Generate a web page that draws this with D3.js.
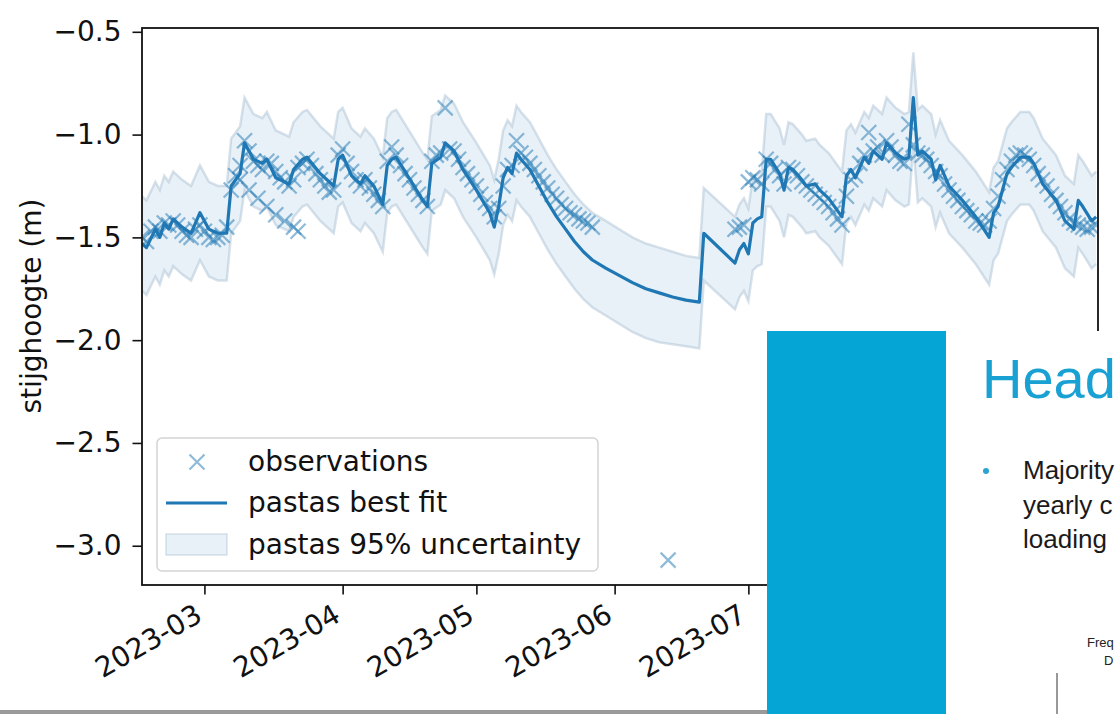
<!DOCTYPE html>
<html><head><meta charset="utf-8">
<script src="https://cdn.jsdelivr.net/npm/d3@7"></script>
<style>body{margin:0;background:#fff}svg{display:block}</style>
</head><body>
<svg id="c" width="1117" height="714"></svg>
<script>
// ---------- DATA ----------
// pastas best fit (simulation) breakpoints
const simDates = [
 "2023-02-15","2023-02-16","2023-02-18","2023-02-19","2023-02-20","2023-02-21","2023-02-22","2023-02-24","2023-02-26","2023-02-28",
 "2023-03-02","2023-03-04","2023-03-06","2023-03-07","2023-03-09","2023-03-10","2023-03-12","2023-03-14","2023-03-15","2023-03-17","2023-03-20","2023-03-21","2023-03-23","2023-03-24","2023-03-27","2023-03-30","2023-03-31",
 "2023-04-01","2023-04-03","2023-04-05","2023-04-06","2023-04-08","2023-04-10","2023-04-11","2023-04-12","2023-04-13","2023-04-17","2023-04-19","2023-04-20","2023-04-21","2023-04-23","2023-04-24","2023-04-26","2023-04-28",
 "2023-05-01","2023-05-04","2023-05-05","2023-05-06","2023-05-07","2023-05-08","2023-05-09","2023-05-10","2023-05-11","2023-05-13","2023-05-15","2023-05-17","2023-05-19","2023-05-21","2023-05-23","2023-05-25","2023-05-27","2023-05-30",
 "2023-06-02","2023-06-05","2023-06-08","2023-06-11","2023-06-14","2023-06-17","2023-06-20","2023-06-21","2023-06-28","2023-06-29","2023-06-30",
 "2023-07-01","2023-07-02","2023-07-03","2023-07-04","2023-07-05","2023-07-06","2023-07-08","2023-07-09","2023-07-10","2023-07-11","2023-07-13","2023-07-14","2023-07-16","2023-07-17","2023-07-19","2023-07-22","2023-07-23","2023-07-24","2023-07-25","2023-07-27","2023-07-28","2023-07-29","2023-07-31",
 "2023-08-01","2023-08-03","2023-08-05","2023-08-06","2023-08-07","2023-08-08","2023-08-09","2023-08-11","2023-08-12","2023-08-13","2023-08-15","2023-08-18","2023-08-21","2023-08-24","2023-08-25","2023-08-26","2023-08-28","2023-08-29","2023-08-31",
 "2023-09-02","2023-09-03","2023-09-05","2023-09-08","2023-09-10","2023-09-12","2023-09-13","2023-09-14","2023-09-16","2023-09-17"
];
const simValues = [
 -1.53,-1.55,-1.46,-1.50,-1.43,-1.46,-1.41,-1.45,-1.48,-1.38,
 -1.46,-1.48,-1.48,-1.25,-1.19,-1.04,-1.12,-1.14,-1.12,-1.21,-1.24,-1.17,-1.12,-1.11,-1.19,-1.25,-1.12,
 -1.10,-1.20,-1.24,-1.20,-1.25,-1.34,-1.15,-1.12,-1.11,-1.25,-1.32,-1.35,-1.14,-1.11,-1.04,-1.08,-1.17,
 -1.27,-1.38,-1.45,-1.35,-1.21,-1.16,-1.19,-1.09,-1.12,-1.17,-1.25,-1.33,-1.40,-1.46,-1.52,-1.57,-1.61,-1.65,
 -1.685,-1.72,-1.75,-1.77,-1.79,-1.805,-1.815,-1.48,-1.625,-1.56,-1.53,
 -1.58,-1.43,-1.41,-1.40,-1.12,-1.12,-1.19,-1.27,-1.16,-1.17,-1.22,-1.25,-1.24,-1.27,-1.31,-1.40,-1.20,-1.17,-1.21,-1.11,-1.14,-1.08,-1.12,
 -1.04,-1.09,-1.12,-1.11,-0.82,-1.10,-1.08,-1.12,-1.22,-1.15,-1.25,-1.32,-1.40,-1.50,-1.38,-1.35,-1.19,-1.16,-1.11,
 -1.11,-1.14,-1.24,-1.32,-1.42,-1.46,-1.32,-1.35,-1.42,-1.40
];
// pastas 95% uncertainty band (same dates as simDates)
const bandUpper = [
 -1.30,-1.32,-1.23,-1.27,-1.20,-1.23,-1.18,-1.22,-1.25,-1.15,
 -1.23,-1.25,-1.25,-1.02,-0.96,-0.82,-0.90,-0.92,-0.89,-0.98,-1.01,-0.94,-0.89,-0.88,-0.96,-1.02,-0.89,
 -0.87,-0.97,-1.01,-0.97,-1.02,-1.11,-0.92,-0.89,-0.88,-1.02,-1.09,-1.12,-0.91,-0.88,-0.81,-0.85,-0.94,
 -1.04,-1.15,-1.22,-1.12,-0.98,-0.93,-0.96,-0.86,-0.89,-0.94,-1.02,-1.10,-1.17,-1.23,-1.29,-1.34,-1.38,-1.42,
 -1.46,-1.50,-1.53,-1.55,-1.57,-1.59,-1.60,-1.26,-1.40,-1.34,-1.31,
 -1.36,-1.21,-1.19,-1.18,-0.90,-0.90,-0.97,-1.05,-0.94,-0.95,-1.00,-1.03,-1.02,-1.05,-1.09,-1.18,-0.98,-0.95,-0.99,-0.89,-0.92,-0.86,-0.90,
 -0.82,-0.87,-0.90,-0.89,-0.60,-0.88,-0.86,-0.90,-1.00,-0.93,-1.03,-1.10,-1.18,-1.28,-1.16,-1.13,-0.97,-0.94,-0.89,
 -0.89,-0.92,-1.02,-1.10,-1.20,-1.24,-1.10,-1.13,-1.20,-1.18
];
const bandLower = [
 -1.76,-1.78,-1.69,-1.73,-1.66,-1.69,-1.64,-1.68,-1.71,-1.61,
 -1.69,-1.71,-1.71,-1.48,-1.42,-1.27,-1.35,-1.37,-1.35,-1.44,-1.47,-1.40,-1.35,-1.34,-1.42,-1.48,-1.35,
 -1.33,-1.43,-1.47,-1.43,-1.48,-1.57,-1.38,-1.35,-1.34,-1.48,-1.55,-1.58,-1.37,-1.34,-1.27,-1.31,-1.40,
 -1.50,-1.61,-1.68,-1.58,-1.44,-1.39,-1.42,-1.32,-1.35,-1.40,-1.48,-1.56,-1.63,-1.69,-1.75,-1.80,-1.84,-1.88,
 -1.92,-1.96,-1.99,-2.01,-2.02,-2.03,-2.04,-1.71,-1.85,-1.79,-1.76,
 -1.81,-1.66,-1.64,-1.63,-1.35,-1.35,-1.42,-1.50,-1.39,-1.40,-1.45,-1.48,-1.47,-1.50,-1.54,-1.63,-1.43,-1.40,-1.44,-1.34,-1.37,-1.31,-1.35,
 -1.27,-1.32,-1.35,-1.34,-1.05,-1.33,-1.31,-1.35,-1.45,-1.38,-1.48,-1.55,-1.63,-1.73,-1.61,-1.58,-1.42,-1.39,-1.34,
 -1.34,-1.37,-1.47,-1.55,-1.65,-1.69,-1.55,-1.58,-1.65,-1.63
];
// observations: daily series (two periods) + extra points
const obsStart1 = "2023-02-15";
const obsValues1 = [
 -1.50,-1.52,-1.47,-1.45,-1.47,-1.43,-1.44,-1.42,-1.44,-1.47,
 -1.49,-1.50,-1.46,-1.44,-1.47,-1.50,-1.51,-1.50,-1.49,-1.45,
 -1.27,-1.20,-1.15,-1.03,-1.08,-1.13,-1.15,-1.17,-1.13,-1.14,
 -1.18,-1.21,-1.23,-1.25,-1.22,-1.16,-1.14,-1.12,-1.15,-1.19,
 -1.22,-1.25,-1.28,-1.27,-1.10,-1.07,-1.14,-1.18,-1.22,-1.25,
 -1.22,-1.26,-1.29,-1.32,-1.35,-1.13,-1.06,-1.10,-1.15,-1.19,
 -1.22,-1.26,-1.29,-1.32,-1.35,-1.13,-1.10,-1.09,-0.87,-1.07,
 -1.08,-1.12,-1.16,-1.19,-1.22,-1.25,-1.29,-1.33,-1.36,-1.40,
 -1.36,-1.25,-1.17,-1.15,-1.03,-1.09,-1.11,-1.14,-1.17,-1.20,
 -1.23,-1.26,-1.29,-1.31,-1.34,-1.36,-1.38,-1.39,-1.41,-1.42,
 -1.43,-1.45
];
const obsStart2 = "2023-06-28";
const obsValues2 = [
 -1.46,-1.45,-1.44,-1.23,-1.21,-1.22,-1.24,-1.12,-1.14,-1.17,
 -1.20,-1.24,-1.16,-1.17,-1.20,-1.23,-1.25,-1.27,-1.29,-1.31,
 -1.33,-1.35,-1.38,-1.41,-1.44,-1.30,-1.22,-1.20,-1.14,-1.10,
 -0.99,-1.08,-1.06,-1.10,-1.03,-1.06,-1.10,-1.13,-1.14,-0.95,
 -1.05,-1.09,-1.10,-1.12,-1.15,-1.18,-1.20,-1.24,-1.27,-1.30,
 -1.32,-1.35,-1.37,-1.39,-1.42,-1.43,-1.44,-1.42,-1.36,-1.30,
 -1.22,-1.17,-1.13,-1.10,-1.09,-1.10,-1.12,-1.15,-1.19,-1.22,
 -1.25,-1.29,-1.32,-1.35,-1.38,-1.41,-1.43,-1.44,-1.45,-1.46,
 -1.45,-1.44
];
const obsExtraDates = ["2023-03-09","2023-03-11","2023-03-13","2023-03-15","2023-03-17","2023-03-19","2023-03-21","2023-03-22","2023-06-13"];
const obsExtraValues = [-1.22,-1.27,-1.31,-1.35,-1.39,-1.42,-1.45,-1.47,-3.07];

const yTicks = [-3.0,-2.5,-2.0,-1.5,-1.0,-0.5];
const xTickDates = ["2023-03-01","2023-04-01","2023-05-01","2023-06-01","2023-07-01","2023-08-01","2023-09-01"];
const yLabel = "stijghoogte (m)";
const legendLabels = ["observations","pastas best fit","pastas 95% uncertainty"];
const slideTitle = "Head";
const slideBullet = ["Majority","yearly c","loading"];
const slideSmall = ["Freq","D"];

// ---------- CHART ----------
const FONT = "DejaVu Sans";
const SLIDE_FONT = "Liberation Sans, Arial, sans-serif";
const M = {left:142, right:1098, top:28, bottom:585};
const parse = d3.utcParse("%Y-%m-%d");
const svg = d3.select("#c");

const x = d3.scaleUtc()
  .domain([parse("2023-02-15"), new Date(Date.UTC(2023,8,17,10))])
  .range([M.left, M.right]);
const y = d3.scaleLinear().domain([-3.191, -0.4815]).range([M.bottom, M.top]);

svg.append("defs").append("clipPath").attr("id","clip")
  .append("rect").attr("x",M.left).attr("y",M.top)
  .attr("width",M.right-M.left).attr("height",M.bottom-M.top);

const sim = simDates.map((d,i)=>({t:parse(d), v:simValues[i], hi:bandUpper[i], lo:bandLower[i]}));
const obs = [];
obsValues1.forEach((v,i)=>obs.push({t:d3.utcDay.offset(parse(obsStart1), i), v}));
obsValues2.forEach((v,i)=>obs.push({t:d3.utcDay.offset(parse(obsStart2), i), v}));
obsExtraDates.forEach((d,i)=>obs.push({t:parse(d), v:obsExtraValues[i]}));

const plot = svg.append("g").attr("clip-path","url(#clip)");

// band
plot.append("path").datum(sim)
  .attr("d", d3.area().x(d=>x(d.t)).y0(d=>y(d.lo)).y1(d=>y(d.hi)))
  .attr("fill","#1f77b4").attr("fill-opacity",0.1);
["hi","lo"].forEach(k=>{
  plot.append("path").datum(sim)
    .attr("d", d3.line().x(d=>x(d.t)).y(d=>y(d[k])))
    .attr("fill","none").attr("stroke","#9db6cc").attr("stroke-opacity",0.4).attr("stroke-width",2.5);
});

// observations
const xMark = "M-7.5,-7.5L7.5,7.5M-7.5,7.5L7.5,-7.5";
plot.selectAll("path.obs").data(obs).join("path").attr("class","obs")
  .attr("transform", d=>`translate(${x(d.t)},${y(d.v)})`)
  .attr("d", xMark).attr("fill","none")
  .attr("stroke","#1f77b4").attr("stroke-opacity",0.5).attr("stroke-width",2.2);

// best fit line
plot.append("path").datum(sim)
  .attr("d", d3.line().x(d=>x(d.t)).y(d=>y(d.v)))
  .attr("fill","none").attr("stroke","#1f77b4").attr("stroke-width",3.2)
  .attr("stroke-linejoin","round");

// axes
const yAxis = svg.append("g").attr("transform",`translate(${M.left},0)`)
  .call(d3.axisLeft(y).tickValues(yTicks).tickSize(9.5).tickPadding(11).tickFormat(d3.format(".1f")));
yAxis.select(".domain").remove();
yAxis.selectAll("line").attr("stroke","#111").attr("stroke-width",1.6);
yAxis.selectAll("text").attr("font-family",FONT).attr("font-size",28).attr("fill","#111");

const xAxis = svg.append("g").attr("transform",`translate(0,${M.bottom})`)
  .call(d3.axisBottom(x).tickValues(xTickDates.map(parse)).tickSize(9.5).tickFormat(d3.utcFormat("%Y-%m")));
xAxis.select(".domain").remove();
xAxis.selectAll("line").attr("stroke","#111").attr("stroke-width",1.6);
xAxis.selectAll("text").attr("font-family",FONT).attr("font-size",28).attr("fill","#111")
  .attr("y",null).attr("dy",null).attr("text-anchor","end")
  .attr("transform","translate(-1,35) rotate(-30)");

svg.append("rect").attr("x",M.left).attr("y",M.top)
  .attr("width",M.right-M.left).attr("height",M.bottom-M.top)
  .attr("fill","none").attr("stroke","#111").attr("stroke-width",1.8);

svg.append("text").attr("transform","translate(31,306) rotate(-90)")
  .attr("text-anchor","middle").attr("dominant-baseline","central")
  .attr("font-family",FONT).attr("font-size",28).attr("fill","#111").text(yLabel);

// legend
const lg = svg.append("g");
lg.append("rect").attr("x",157).attr("y",438).attr("width",441).attr("height",133).attr("rx",5)
  .attr("fill","#fff").attr("fill-opacity",0.85).attr("stroke","#d4d4d4").attr("stroke-width",1.5);
lg.append("path").attr("transform","translate(197,462)").attr("d",xMark).attr("fill","none")
  .attr("stroke","#1f77b4").attr("stroke-opacity",0.5).attr("stroke-width",2.2);
lg.append("line").attr("x1",166).attr("x2",227).attr("y1",503).attr("y2",503)
  .attr("stroke","#1f77b4").attr("stroke-width",3.2);
lg.append("rect").attr("x",166).attr("y",534).attr("width",61).attr("height",21)
  .attr("fill","#1f77b4").attr("fill-opacity",0.1).attr("stroke","#9db6cc").attr("stroke-opacity",0.4).attr("stroke-width",1.5);
[471,512,554].forEach((yy,i)=>{
  lg.append("text").attr("x",248).attr("y",yy).attr("font-family",FONT).attr("font-size",28)
    .attr("fill","#111").text(legendLabels[i]);
});

// ---------- overlaid slide (part of the screenshot) ----------
svg.append("rect").attr("x",0).attr("y",710).attr("width",767).attr("height",4).attr("fill","#9a9a9a");
svg.append("rect").attr("x",767).attr("y",331).attr("width",179).attr("height",383).attr("fill","#05a6d6");
svg.append("rect").attr("x",946).attr("y",331).attr("width",171).attr("height",383).attr("fill","#fff");
svg.append("text").attr("x",982).attr("y",398).attr("font-family",SLIDE_FONT)
  .attr("font-size",56).attr("fill","#1aa1d3").text(slideTitle);
svg.append("circle").attr("cx",986).attr("cy",471).attr("r",3).attr("fill","#2aa3d3");
slideBullet.forEach((t,i)=>{
  svg.append("text").attr("x",1023).attr("y",479+i*34.5).attr("font-family",SLIDE_FONT)
    .attr("font-size",26).attr("fill","#1a1a1a").text(t);
});
svg.append("text").attr("x",1087).attr("y",647).attr("font-family",SLIDE_FONT)
  .attr("font-size",13).attr("fill","#222").text(slideSmall[0]);
svg.append("text").attr("x",1104).attr("y",665).attr("font-family",SLIDE_FONT)
  .attr("font-size",13).attr("fill","#222").text(slideSmall[1]);
svg.append("line").attr("x1",1057).attr("x2",1057).attr("y1",673).attr("y2",714).attr("stroke","#333").attr("stroke-width",1);
</script>
</body></html>
